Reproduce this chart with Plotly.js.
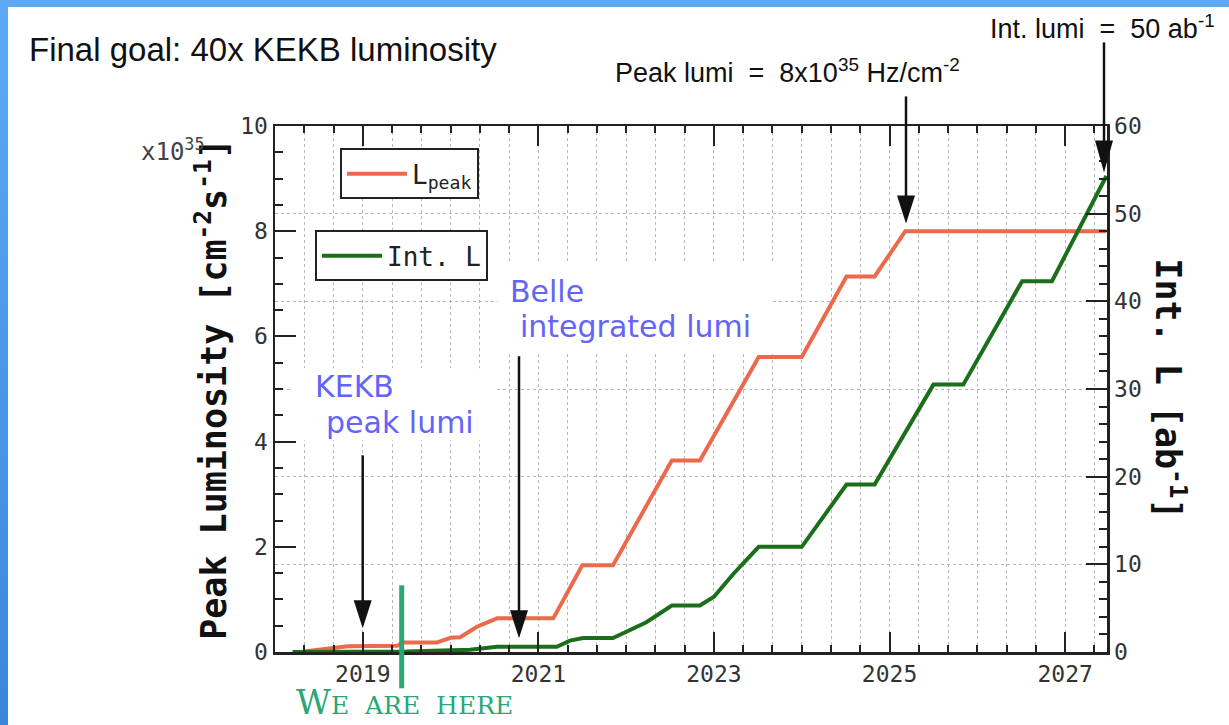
<!DOCTYPE html>
<html><head><meta charset="utf-8">
<script src="https://cdn.plot.ly/plotly-3.0.1.min.js"></script>
<style>
html,body{margin:0;padding:0;background:#fff;}
#wrap{position:relative;width:1229px;height:725px;background:linear-gradient(to bottom,#5eaaf2,#3a86dc);overflow:hidden;}
#chart{position:absolute;left:8px;top:7px;width:1221px;height:718px;background:#fff;}
</style></head>
<body><div id="wrap"><div id="chart"></div></div>
<script>
// ---- data ----
const peakYears = [2018.33, 2018.56, 2018.83, 2019.39, 2019.46, 2019.84, 2020.0, 2020.11, 2020.3, 2020.53, 2021.17, 2021.5, 2021.85, 2022.52, 2022.84, 2023.51, 2024.0, 2024.51, 2024.83, 2025.18, 2027.47];
const peakLumi  = [0.01, 0.06, 0.11, 0.12, 0.18, 0.18, 0.27, 0.28, 0.48, 0.64, 0.64, 1.65, 1.65, 3.64, 3.64, 5.61, 5.61, 7.14, 7.14, 8.0, 8.0];
const intYears  = [2018.2, 2019.5, 2020.22, 2020.53, 2021.21, 2021.36, 2021.51, 2021.85, 2022.23, 2022.52, 2022.84, 2023.0, 2023.22, 2023.51, 2024.0, 2024.51, 2024.83, 2025.5, 2025.84, 2026.51, 2026.85, 2027.47];
const intLumi   = [0.0, 0.05, 0.25, 0.6, 0.6, 1.3, 1.6, 1.6, 3.4, 5.3, 5.3, 6.3, 8.9, 12.0, 12.0, 19.1, 19.1, 30.5, 30.5, 42.3, 42.3, 54.3];
const xTickVals  = [2019, 2021, 2023, 2025, 2027];
const xTickText  = ['2019', '2021', '2023', '2025', '2027'];
const seriesNames = ['L<sub>peak</sub>', 'Int. L'];

// ---- helpers: reference-pixel -> paper coordinates ----
const PX = v => (v - 275) / 832;
const PY = v => (651.7 - v) / 526.1;

const RED = '#ec6a4c', GREEN = '#1b6f1b', BLUE = '#6464f8', HERE = '#2aa777', INK = '#111';
const MONO = 'DejaVu Sans Mono';

const traces = [
  {x: peakYears, y: peakLumi, type: 'scatter', mode: 'lines', name: seriesNames[0],
   line: {color: RED, width: 4}, yaxis: 'y', legend: 'legend'},
  {x: intYears, y: intLumi, type: 'scatter', mode: 'lines', name: seriesNames[1],
   line: {color: GREEN, width: 4}, yaxis: 'y2', legend: 'legend2'}
];

function arrow(x, top, base, tip) {
  return [
    {type: 'line', xref: 'paper', yref: 'paper', x0: PX(x), x1: PX(x), y0: PY(top), y1: PY(base + 2),
     line: {color: INK, width: 2.5}},
    {type: 'path', xref: 'paper', yref: 'paper',
     path: `M ${PX(x - 9)},${PY(base)} L ${PX(x + 9)},${PY(base)} L ${PX(x)},${PY(tip)} Z`,
     fillcolor: INK, line: {width: 0}}
  ];
}

const shapes = [
  {type: 'rect', xref: 'paper', yref: 'paper', x0: PX(498), x1: PX(773), y0: PY(352), y1: PY(263),
   fillcolor: '#fff', line: {width: 0}, layer: 'above'},
  {type: 'rect', xref: 'paper', yref: 'paper', x0: PX(290), x1: PX(497), y0: PY(440), y1: PY(368),
   fillcolor: '#fff', line: {width: 0}, layer: 'above'},
  ...arrow(1104, 42, 140, 172),
  ...arrow(906, 96, 195, 223),
  ...arrow(362.7, 455, 600, 628),
  ...arrow(519, 356, 610, 638),
  {type: 'line', xref: 'paper', yref: 'paper', x0: PX(401.7), x1: PX(401.7), y0: PY(585), y1: PY(688),
   line: {color: HERE, width: 5}}
];

function ann(text, x, y, font, extra) {
  return Object.assign({text: text, xref: 'paper', yref: 'paper', x: PX(x), y: PY(y),
    showarrow: false, xanchor: 'left', yanchor: 'middle', font: font}, extra || {});
}
const sansL = (s, c) => ({family: 'Liberation Sans', size: s, color: c || INK});
const blueF = {family: 'DejaVu Sans', size: 30, color: BLUE};

const annotations = [
  ann('Peak lumi&nbsp; =&nbsp; 8x10<sup>35</sup> Hz/cm<sup>-2</sup>', 613, 71, sansL(27)),
  ann('Int. lumi&nbsp; =&nbsp; 50 ab<sup>-1</sup>', 988, 27, sansL(27)),
  ann('Belle', 508, 291, blueF),
  ann('integrated lumi', 518, 326, blueF),
  ann('KEKB', 313, 386, blueF),
  ann('peak lumi', 324, 422, blueF),
  ann('x10<sup>35</sup>', 139, 150, {family: MONO, size: 24, color: '#444'}),
  ann('Int. L [ab<sup>-1</sup>]', 1170, 388, {family: MONO, size: 35, color: INK, weight: 'bold'},
      {xanchor: 'center', textangle: 90}),
  ann('<span style="font-size:34px">W</span>E&nbsp; ARE&nbsp; HERE', 404, 702,
      {family: 'DejaVu Serif', size: 25, color: HERE}, {xanchor: 'center'})
];

const axLine = {showline: true, linecolor: '#222', linewidth: 2.5, zeroline: false,
  ticks: 'inside', tickcolor: '#222', tickwidth: 2,
  tickfont: {family: MONO, size: 23, color: '#333'}};

const legendFont = {family: MONO, size: 26, color: '#222'};

const layout = {
  width: 1221, height: 718,
  margin: {l: 267, r: 122, t: 118.6, b: 73.3, pad: 0},
  paper_bgcolor: '#fff', plot_bgcolor: '#fff',
  showlegend: true,
  title: {text: 'Final goal: 40x KEKB luminosity', font: sansL(33),
    xref: 'container', yref: 'container', x: 21 / 1221, xanchor: 'left',
    y: 1 - (49 - 7) / 718, yanchor: 'middle'},
  xaxis: Object.assign({}, axLine, {
    range: [2018.0, 2027.477], tickmode: 'array', tickvals: xTickVals, ticktext: xTickText,
    ticklen: 20, mirror: 'ticks', showgrid: true, griddash: 'dot', gridcolor: '#b8b8b8', gridwidth: 1,
    minor: {tick0: 2018, dtick: 1 / 3, ticks: 'inside', ticklen: 7, tickcolor: '#222', tickwidth: 2,
      showgrid: true, griddash: 'dot', gridcolor: '#b8b8b8', gridwidth: 1}
  }),
  yaxis: Object.assign({}, axLine, {
    range: [0, 10], dtick: 2, tick0: 0, ticklen: 21, showgrid: false,
    minor: {dtick: 0.5, ticks: 'inside', ticklen: 8, tickcolor: '#222', tickwidth: 2, showgrid: false},
    title: {text: 'Peak Luminosity [cm<sup>-2</sup>s<sup>-1</sup>]', standoff: 3,
      font: {family: MONO, size: 35, color: INK, weight: 'bold'}}
  }),
  yaxis2: Object.assign({}, axLine, {
    overlaying: 'y', side: 'right', range: [0, 60], dtick: 10, tick0: 0, ticklen: 21,
    showgrid: true, griddash: 'dot', gridcolor: '#b8b8b8', gridwidth: 1,
    minor: {dtick: 2, ticks: 'inside', ticklen: 8, tickcolor: '#222', tickwidth: 2, showgrid: false}
  }),
  legend: {x: PX(340), y: PY(148), xanchor: 'left', yanchor: 'top', bgcolor: '#fff', itemwidth: 60,
    bordercolor: '#222', borderwidth: 2, font: legendFont},
  legend2: {x: PX(315), y: PY(230), xanchor: 'left', yanchor: 'top', bgcolor: '#fff', itemwidth: 60,
    bordercolor: '#222', borderwidth: 2, font: legendFont},
  shapes: shapes,
  annotations: annotations
};

Plotly.newPlot('chart', traces, layout, {displayModeBar: false, staticPlot: true});
</script>
</body></html>
